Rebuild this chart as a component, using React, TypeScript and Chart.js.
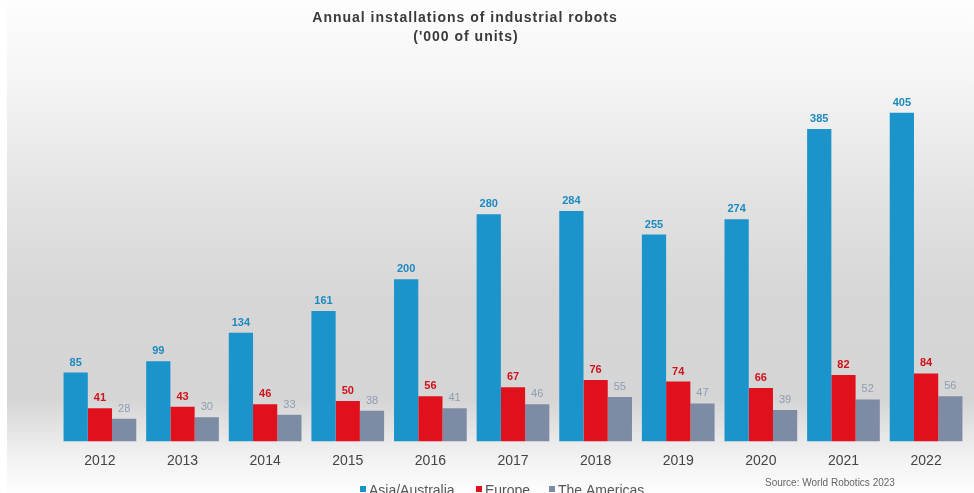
import React, { useEffect, useRef } from "react";
import { Chart, registerables } from "chart.js";

Chart.register(...registerables);

const years = ["2012", "2013", "2014", "2015", "2016", "2017", "2018", "2019", "2020", "2021", "2022"];
const asiaAustralia = [85, 99, 134, 161, 200, 280, 284, 255, 274, 385, 405];
const europe = [41, 43, 46, 50, 56, 67, 76, 74, 66, 82, 84];
const theAmericas = [28, 30, 33, 38, 41, 46, 55, 47, 39, 52, 56];
const seriesNames = ["Asia/Australia", "Europe", "The Americas"];
const titleText = "Annual installations of industrial robots";
const subtitleText = "('000 of units)";
const sourceText = "Source: World Robotics 2023";

const colors = ["#1b93cb", "#e0111d", "#7d8ca4"];
const labelColors = ["#1b8ac0", "#d0101b", "#8e9cb2"];

const decorPlugin = {
  id: "decor",
  beforeDraw(chart: any) {
    const { ctx, width, height } = chart;
    ctx.save();
    ctx.fillStyle = "#ffffff";
    ctx.fillRect(0, 0, width, height);
    const g = ctx.createLinearGradient(0, 0, 0, height);
    g.addColorStop(0, "#fdfdfd");
    g.addColorStop(70 / height, "#f6f6f6");
    g.addColorStop(200 / height, "#e2e2e2");
    g.addColorStop(300 / height, "#d6d6d6");
    g.addColorStop(400 / height, "#d5d5d5");
    g.addColorStop(455 / height, "#f1f1f1");
    g.addColorStop(1, "#fdfdfd");
    ctx.fillStyle = g;
    ctx.fillRect(7, 0, width - 7, height);
    ctx.restore();
  },
  afterDraw(chart: any) {
    const { ctx } = chart;
    ctx.save();
    // title
    ctx.textAlign = "center";
    ctx.textBaseline = "middle";
    ctx.fillStyle = "#3a3a3a";
    ctx.font = "bold 14px 'Liberation Sans', Arial, sans-serif";
    (ctx as any).letterSpacing = "1px";
    ctx.fillText(titleText, 465, 18);
    ctx.fillText(subtitleText, 466, 37);
    (ctx as any).letterSpacing = "0px";

    // value labels
    chart.data.datasets.forEach((ds: any, di: number) => {
      const meta = chart.getDatasetMeta(di);
      ctx.fillStyle = labelColors[di];
      ctx.font = (di === 2 ? "" : "bold ") + "11px 'Liberation Sans', Arial, sans-serif";
      meta.data.forEach((bar: any, i: number) => {
        ctx.fillText(String(ds.data[i]), bar.x, bar.y - 10);
      });
    });

    // legend
    ctx.textAlign = "left";
    ctx.font = "14px 'Liberation Sans', Arial, sans-serif";
    const legendX = [360, 476, 549];
    seriesNames.forEach((name, i) => {
      ctx.fillStyle = colors[i];
      ctx.fillRect(legendX[i], 486, 6, 6);
      ctx.fillStyle = "#555555";
      ctx.fillText(name, legendX[i] + 9, 491);
    });

    // source
    ctx.font = "10px 'Liberation Sans', Arial, sans-serif";
    ctx.fillStyle = "#666666";
    ctx.fillText(sourceText, 765, 483);
    ctx.restore();
  },
};

export default function App() {
  const ref = useRef<HTMLCanvasElement | null>(null);
  useEffect(() => {
    if (!ref.current) return;
    const chart = new Chart(ref.current, {
      type: "bar",
      data: {
        labels: years,
        datasets: [asiaAustralia, europe, theAmericas].map((d, i) => ({
          label: seriesNames[i],
          data: d,
          backgroundColor: colors[i],
          borderWidth: 0,
          categoryPercentage: 0.88,
          barPercentage: 1.0,
        })),
      },
      options: {
        animation: false,
        responsive: false,
        maintainAspectRatio: false,
        layout: { padding: { left: 58.6, right: 6.6, top: 95, bottom: 12.6 } },
        plugins: {
          legend: { display: false },
          title: { display: false },
          tooltip: { enabled: false },
        },
        scales: {
          x: {
            grid: { display: false, drawTicks: false },
            border: { display: false },
            ticks: {
              color: "#444444",
              font: { size: 14, family: "'Liberation Sans', Arial, sans-serif" },
              padding: 11,
            },
          },
          y: {
            display: false,
            min: 0,
            max: 427,
          },
        },
      },
      plugins: [decorPlugin],
    });
    return () => chart.destroy();
  }, []);
  return (
    <div style={{ position: "fixed", left: 0, top: 0, width: 974, height: 493 }}>
      <canvas ref={ref} width={974} height={493} style={{ width: 974, height: 493 }} />
    </div>
  );
}
